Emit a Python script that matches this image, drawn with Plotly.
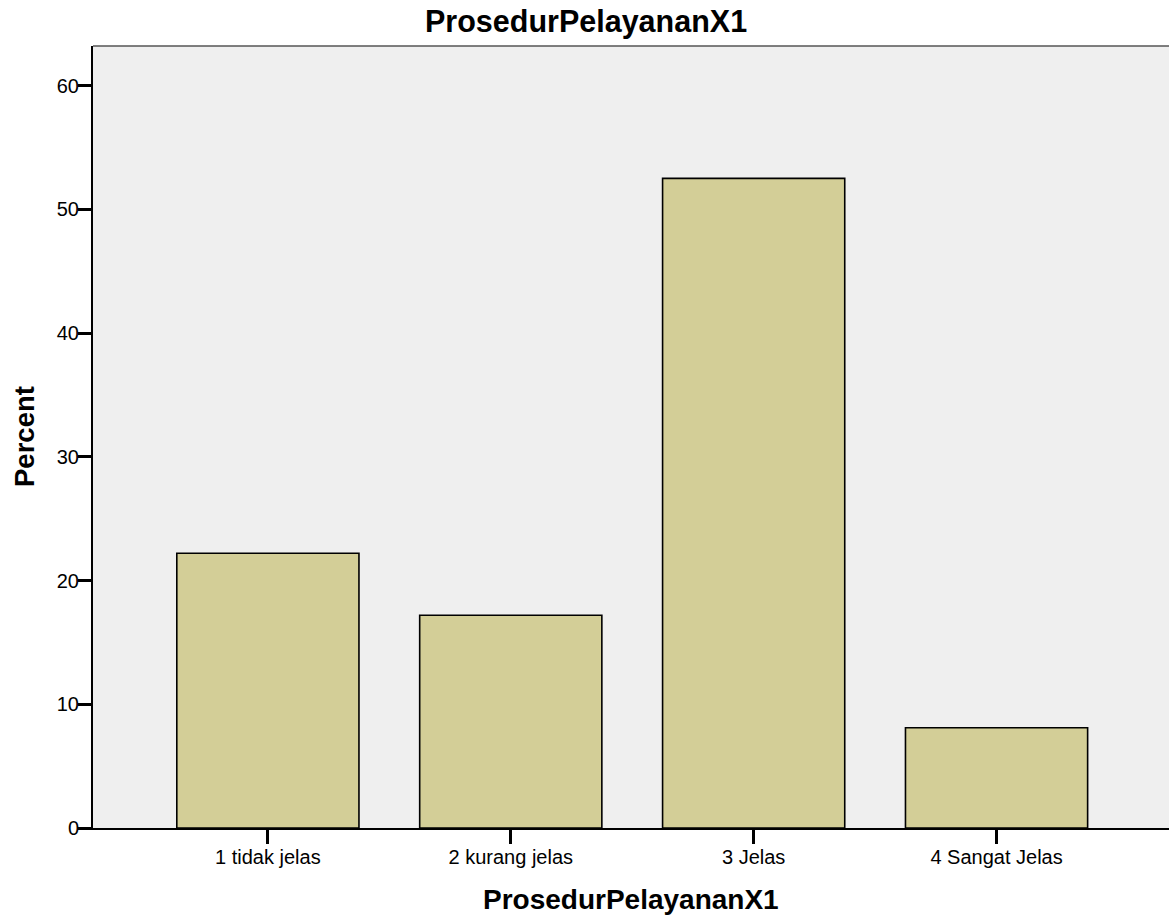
import plotly.graph_objects as go

categories = ["1 tidak jelas", "2 kurang jelas", "3 Jelas", "4 Sangat Jelas"]
percent = [22.2, 17.2, 52.5, 8.1]
y_ticks = [0, 10, 20, 30, 40, 50, 60]
title_text = "ProsedurPelayananX1"
x_title = "ProsedurPelayananX1"
y_title = "Percent"

W, H = 1169, 918
L, R, T, B = 93, 0, 46, 90

fig = go.Figure()
fig.add_trace(go.Bar(
    x=list(range(len(categories))), y=percent,
    marker=dict(color="#D3CE97", line=dict(color="black", width=1.6)),
    width=0.75,
))

font = "Liberation Sans, Arial, sans-serif"
fig.update_layout(
    width=W, height=H,
    margin=dict(l=L, r=R, t=T, b=B),
    paper_bgcolor="white", plot_bgcolor="#EFEFEF",
    showlegend=False,
    font=dict(family=font, color="black"),
)
fig.update_xaxes(
    range=[-0.72, 3.71],
    tickmode="array", tickvals=list(range(len(categories))), ticktext=categories,
    ticks="outside", ticklen=14, tickwidth=3, tickcolor="black",
    tickfont=dict(family=font, size=20, color="black"),
    ticklabelstandoff=-4,
    showline=True, linecolor="black", linewidth=2,
    showgrid=False, zeroline=False,
)
fig.update_yaxes(
    range=[0, 63.2],
    tickmode="array", tickvals=y_ticks,
    ticks="outside", ticklen=13, tickwidth=3, tickcolor="black",
    tickfont=dict(family=font, size=20, color="black"),
    ticklabelstandoff=-5,
    showline=True, linecolor="black", linewidth=2,
    showgrid=False, zeroline=False,
)
fig.add_annotation(text="<b>%s</b>" % title_text, xref="paper", yref="paper",
                   x=(586 - L) / (W - L - R), y=1 + (T - 22) / (H - T - B),
                   xanchor="center", yanchor="middle", showarrow=False,
                   font=dict(family=font, size=30.5, color="black"))
fig.add_annotation(text="<b>%s</b>" % x_title, xref="paper", yref="paper",
                   x=(631 - L) / (W - L - R), y=-(899 - (H - B)) / (H - T - B),
                   xanchor="center", yanchor="middle", showarrow=False,
                   font=dict(family=font, size=28, color="black"))
fig.add_annotation(text="<b>%s</b>" % y_title, xref="paper", yref="paper",
                   x=-(L - 24) / (W - L - R), y=0.5, textangle=-90,
                   xanchor="center", yanchor="middle", showarrow=False,
                   font=dict(family=font, size=27.5, color="black"))
fig.add_shape(type="line", xref="paper", yref="paper", x0=0, x1=1, y0=1, y1=1,
              line=dict(color="#555555", width=1.5))
fig.write_html("out.html", config={"displayModeBar": False},
               post_script="document.body.style.margin='0';document.body.style.overflow='hidden';")
